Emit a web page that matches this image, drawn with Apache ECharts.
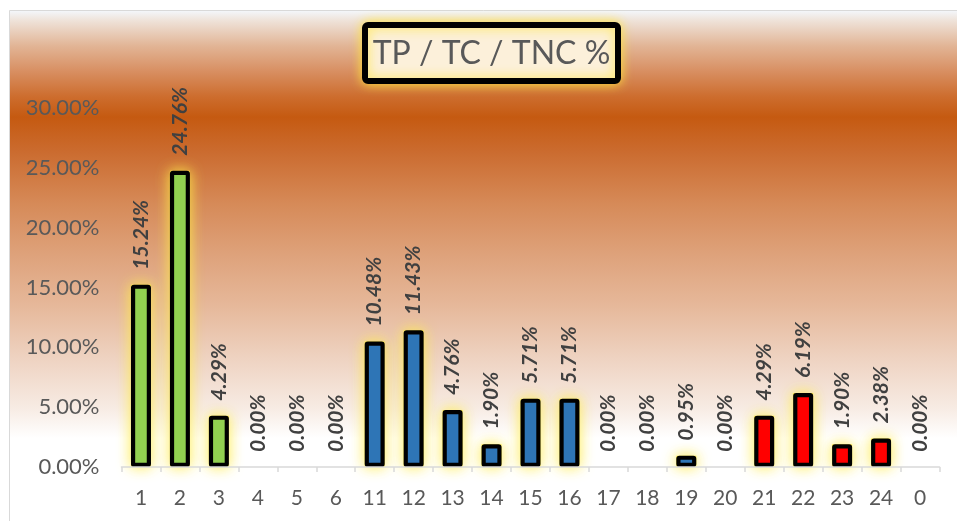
<!DOCTYPE html>
<html>
<head>
<meta charset="utf-8">
<script src="https://cdn.jsdelivr.net/npm/echarts@6/dist/echarts.min.js"></script>
<style>
  html, body { margin: 0; padding: 0; background: #ffffff; }
  #chart { width: 957px; height: 521px; }
</style>
</head>
<body>
<div id="chart"></div>
<script>
// Category labels along the x axis
const categories = ['1', '2', '3', '4', '5', '6', '11', '12', '13', '14', '15', '16', '17', '18', '19', '20', '21', '22', '23', '24', '0'];
// Share of each category, in percent
const values = [15.24, 24.76, 4.29, 0, 0, 0, 10.48, 11.43, 4.76, 1.90, 5.71, 5.71, 0, 0, 0.95, 0, 4.29, 6.19, 1.90, 2.38, 0];
// Colour group of each category
const groups = ['g', 'g', 'g', 'g', 'g', 'g', 'b', 'b', 'b', 'b', 'b', 'b', 'b', 'b', 'b', 'b', 'r', 'r', 'r', 'r', 'r'];
// Y axis range and step
const yTicks = { min: 0, max: 30, step: 5 };
const titleText = 'TP / TC / TNC %';

const groupColors = { g: '#92d050', b: '#2e75b6', r: '#ff0000' };
const glowColor = 'rgba(255, 236, 70, 0.95)';

const chart = echarts.init(document.getElementById('chart'), null, { renderer: 'canvas' });

const H = 511; // height of the shaded plot background
const stop = (y, c) => ({ offset: Math.min(1, Math.max(0, (y - 10) / H)), color: c });

// Visible bars: solid fill with black outline
const barData = values.map((v, i) => ({
  value: v,
  itemStyle: v === 0
    ? { color: 'transparent', borderWidth: 0 }
    : { color: groupColors[groups[i]] }
}));

// Soft yellow halo drawn behind each bar
const glowData = values.map((v) => ({
  value: v,
  itemStyle: v === 0
    ? { color: 'transparent', borderWidth: 0, shadowBlur: 0 }
    : {}
}));

chart.setOption({
  backgroundColor: '#ffffff',
  animation: false,
  graphic: [
    {
      type: 'rect',
      z: -10,
      shape: { x: 9.5, y: 10.5, width: 960, height: 520 },
      style: {
        stroke: '#d9d9d9',
        lineWidth: 1,
        fill: {
          type: 'linear', x: 0, y: 0, x2: 0, y2: 1,
          colorStops: [
            stop(11, '#f3f6fa'),
            stop(20, '#efe3da'),
            stop(45, '#e2b596'),
            stop(70, '#d88f62'),
            stop(95, '#cd6d2e'),
            stop(115, '#c55a11'),
            stop(150, '#cb6c30'),
            stop(200, '#d68a58'),
            stop(250, '#dea27b'),
            stop(300, '#e6b89a'),
            stop(350, '#eed2c0'),
            stop(400, '#f7ebe3'),
            stop(430, '#ffffff'),
            stop(521, '#ffffff')
          ]
        }
      }
    },
    {
      type: 'group',
      z: 10,
      children: [
        {
          type: 'rect',
          shape: { x: 365, y: 25, width: 253, height: 56, r: 3 },
          style: {
            fill: '#fcf0da',
            stroke: '#000000',
            lineWidth: 6,
            shadowBlur: 12,
            shadowColor: 'rgba(255, 230, 60, 0.95)'
          }
        },
        {
          type: 'text',
          style: {
            x: 491.5, y: 54,
            text: titleText,
            fill: '#595959',
            font: '32px Lato',
            align: 'center',
            verticalAlign: 'middle'
          }
        }
      ]
    }
  ],
  grid: { left: 121.5, right: 17.5, top: 108, bottom: 54, containLabel: false },
  xAxis: {
    type: 'category',
    data: categories,
    axisLine: { show: true, lineStyle: { color: '#d9d9d9', width: 1.5 } },
    axisTick: { show: true, length: 5, lineStyle: { color: '#d9d9d9', width: 1.5 } },
    axisLabel: { color: '#595959', fontFamily: 'Lato', fontSize: 21, margin: 21 },
    z: 5
  },
  yAxis: {
    type: 'value',
    min: yTicks.min,
    max: yTicks.max,
    interval: yTicks.step,
    axisLine: { show: false },
    axisTick: { show: false },
    splitLine: { show: false },
    axisLabel: {
      color: '#595959', fontFamily: 'Lato', fontSize: 22, margin: 22,
      formatter: (v) => v.toFixed(2) + '%'
    }
  },
  series: [
    {
      type: 'bar',
      name: 'halo',
      data: glowData,
      barWidth: 20,
      z: 1,
      silent: true,
      itemStyle: {
        color: glowColor,
        borderColor: glowColor,
        borderWidth: 4,
        shadowBlur: 14,
        shadowColor: glowColor
      },
      label: { show: false }
    },
    {
      type: 'bar',
      name: 'share',
      data: barData,
      barWidth: 20,
      barGap: '-100%',
      z: 3,
      itemStyle: {
        borderColor: '#000000',
        borderWidth: 4.2,
        borderJoin: 'round',
        borderRadius: 1
      },
      label: {
        show: true,
        position: 'top',
        rotate: 90,
        align: 'left',
        verticalAlign: 'middle',
        distance: 13,
        offset: [2, 0],
        fontFamily: 'Lato',
        fontStyle: 'italic',
        fontWeight: 'bold',
        fontSize: 21,
        color: '#404040',
        formatter: (p) => p.value.toFixed(2) + '%'
      }
    }
  ]
});
</script>
</body>
</html>
